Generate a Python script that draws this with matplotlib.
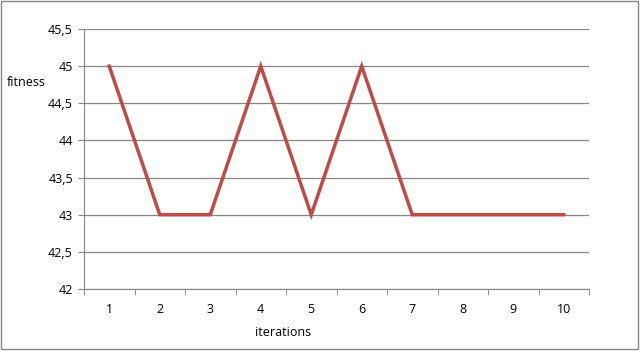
import matplotlib.pyplot as plt
import numpy as np

iterations = [1, 2, 3, 4, 5, 6, 7, 8, 9, 10]
fitness = [45, 43, 43, 45, 43, 45, 43, 43, 43, 43]
yticks = [42, 42.5, 43, 43.5, 44, 44.5, 45, 45.5]
ylabels = ["42", "42,5", "43", "43,5", "44", "44,5", "45", "45,5"]

plt.rcParams['font.family'] = ['Open Sans', 'DejaVu Sans']
grey = "#868686"

fig = plt.figure(figsize=(6.4, 3.51), dpi=100)
ax = fig.add_axes([84/640, 1-289/351, (589-84)/640, (289-29)/351])

x = np.arange(len(iterations))
ax.plot(x, fitness, color="#BE4B48", lw=2.5, solid_joinstyle="miter")

ax.set_xlim(-0.5, len(iterations)-0.5)
ax.set_ylim(42, 45.5)
ax.set_yticks(yticks)
ax.set_yticklabels(ylabels, fontsize=9)
ax.set_xticks(x)
ax.set_xticklabels([str(i) for i in iterations], fontsize=9)
ax.set_xticks(np.arange(len(iterations)+1)-0.5, minor=True)
ax.tick_params(axis='x', which='major', length=0, pad=10)
ax.tick_params(axis='x', which='minor', length=4, color=grey, direction='out')
ax.tick_params(axis='y', length=4, color=grey, pad=4)
ax.grid(axis='y', color=grey, lw=0.9)
ax.set_axisbelow(True)
for s in ['top', 'right']:
    ax.spines[s].set_visible(False)
ax.spines['left'].set_color(grey)
ax.spines['bottom'].set_color(grey)

fig.text(7/640, 1-82/351, "fitness", fontsize=9, va='center', ha='left')
fig.text(283/640, 1-332/351, "iterations", fontsize=9, va='center', ha='center')

# frame around the whole chart
fig.patches.append(plt.Rectangle((1/640, 2/351), 637/640, 348/351, transform=fig.transFigure,
                                 fill=False, edgecolor=grey, lw=1))

fig.savefig("out.png", dpi=100)
